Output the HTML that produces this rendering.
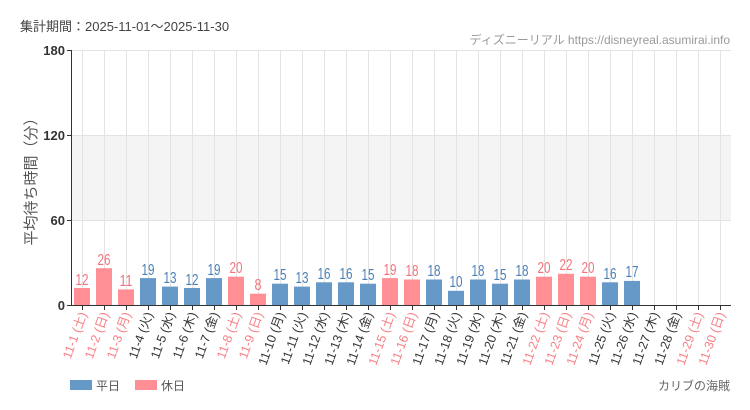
<!DOCTYPE html>
<html><head><meta charset="utf-8"><style>
html,body{margin:0;padding:0;background:#fff;}
svg{display:block;font-family:"Liberation Sans","Noto Sans CJK JP",sans-serif;}
.v{font-size:16px;text-anchor:middle;}
.b{fill:#4a80b8}.p{fill:#f4727a}
.l{font-size:12.5px;text-anchor:end;}
.lk{fill:#333}.lp{fill:#f77e84}
</style></head><body>
<svg width="750" height="410" viewBox="0 0 750 410" xmlns="http://www.w3.org/2000/svg">
<text x="20" y="31" font-size="13" fill="#444">集計期間：2025-11-01～2025-11-30</text>
<text x="730" y="44" font-size="12" fill="#999" text-anchor="end">ディズニーリアル https://disneyreal.asumirai.info</text>
<rect x="71" y="135" width="660" height="85" fill="#f4f4f4"/>
<g stroke="#e3e3e3" stroke-width="1">
<line x1="71" y1="50.5" x2="731" y2="50.5"/><line x1="71" y1="135.5" x2="731" y2="135.5"/><line x1="71" y1="220.5" x2="731" y2="220.5"/>
<path d="M82.5 50V305M104.5 50V305M126.5 50V305M148.5 50V305M170.5 50V305M192.5 50V305M214.5 50V305M236.5 50V305M258.5 50V305M280.5 50V305M302.5 50V305M324.5 50V305M346.5 50V305M368.5 50V305M390.5 50V305M412.5 50V305M434.5 50V305M456.5 50V305M478.5 50V305M500.5 50V305M522.5 50V305M544.5 50V305M566.5 50V305M588.5 50V305M610.5 50V305M632.5 50V305M654.5 50V305M676.5 50V305M698.5 50V305M720.5 50V305"/>
</g>
<g font-size="13" font-weight="bold" fill="#333" text-anchor="end">
<text x="65" y="55">180</text><text x="65" y="140">120</text><text x="65" y="225">60</text><text x="65" y="310">0</text>
</g>
<text transform="translate(36,178) rotate(-90)" font-size="15" fill="#555" text-anchor="middle">平均待ち時間（分）</text>
<g>
<rect x="74" y="288" width="16" height="17" fill="#ff8f95"/>
<rect x="96" y="268.2" width="16" height="36.8" fill="#ff8f95"/>
<rect x="118" y="289.4" width="16" height="15.6" fill="#ff8f95"/>
<rect x="140" y="278.1" width="16" height="26.9" fill="#6699c8"/>
<rect x="162" y="286.6" width="16" height="18.4" fill="#6699c8"/>
<rect x="184" y="288" width="16" height="17" fill="#6699c8"/>
<rect x="206" y="278.1" width="16" height="26.9" fill="#6699c8"/>
<rect x="228" y="276.7" width="16" height="28.3" fill="#ff8f95"/>
<rect x="250" y="293.7" width="16" height="11.3" fill="#ff8f95"/>
<rect x="272" y="283.7" width="16" height="21.3" fill="#6699c8"/>
<rect x="294" y="286.6" width="16" height="18.4" fill="#6699c8"/>
<rect x="316" y="282.3" width="16" height="22.7" fill="#6699c8"/>
<rect x="338" y="282.3" width="16" height="22.7" fill="#6699c8"/>
<rect x="360" y="283.7" width="16" height="21.3" fill="#6699c8"/>
<rect x="382" y="278.1" width="16" height="26.9" fill="#ff8f95"/>
<rect x="404" y="279.5" width="16" height="25.5" fill="#ff8f95"/>
<rect x="426" y="279.5" width="16" height="25.5" fill="#6699c8"/>
<rect x="448" y="290.8" width="16" height="14.2" fill="#6699c8"/>
<rect x="470" y="279.5" width="16" height="25.5" fill="#6699c8"/>
<rect x="492" y="283.7" width="16" height="21.3" fill="#6699c8"/>
<rect x="514" y="279.5" width="16" height="25.5" fill="#6699c8"/>
<rect x="536" y="276.7" width="16" height="28.3" fill="#ff8f95"/>
<rect x="558" y="273.8" width="16" height="31.2" fill="#ff8f95"/>
<rect x="580" y="276.7" width="16" height="28.3" fill="#ff8f95"/>
<rect x="602" y="282.3" width="16" height="22.7" fill="#6699c8"/>
<rect x="624" y="280.9" width="16" height="24.1" fill="#6699c8"/>
</g>
<g class="v">
<text class="p" x="82" y="285" textLength="13" lengthAdjust="spacingAndGlyphs">12</text><text class="p" x="104" y="265" textLength="13" lengthAdjust="spacingAndGlyphs">26</text><text class="p" x="126" y="286" textLength="13" lengthAdjust="spacingAndGlyphs">11</text>
<text class="b" x="148" y="275" textLength="13" lengthAdjust="spacingAndGlyphs">19</text><text class="b" x="170" y="283" textLength="13" lengthAdjust="spacingAndGlyphs">13</text><text class="b" x="192" y="285" textLength="13" lengthAdjust="spacingAndGlyphs">12</text>
<text class="b" x="214" y="275" textLength="13" lengthAdjust="spacingAndGlyphs">19</text><text class="p" x="236" y="273" textLength="13" lengthAdjust="spacingAndGlyphs">20</text><text class="p" x="258" y="290" textLength="7" lengthAdjust="spacingAndGlyphs">8</text>
<text class="b" x="280" y="280" textLength="13" lengthAdjust="spacingAndGlyphs">15</text><text class="b" x="302" y="283" textLength="13" lengthAdjust="spacingAndGlyphs">13</text><text class="b" x="324" y="279" textLength="13" lengthAdjust="spacingAndGlyphs">16</text>
<text class="b" x="346" y="279" textLength="13" lengthAdjust="spacingAndGlyphs">16</text><text class="b" x="368" y="280" textLength="13" lengthAdjust="spacingAndGlyphs">15</text><text class="p" x="390" y="275" textLength="13" lengthAdjust="spacingAndGlyphs">19</text>
<text class="p" x="412" y="276" textLength="13" lengthAdjust="spacingAndGlyphs">18</text><text class="b" x="434" y="276" textLength="13" lengthAdjust="spacingAndGlyphs">18</text><text class="b" x="456" y="287" textLength="13" lengthAdjust="spacingAndGlyphs">10</text>
<text class="b" x="478" y="276" textLength="13" lengthAdjust="spacingAndGlyphs">18</text><text class="b" x="500" y="280" textLength="13" lengthAdjust="spacingAndGlyphs">15</text><text class="b" x="522" y="276" textLength="13" lengthAdjust="spacingAndGlyphs">18</text>
<text class="p" x="544" y="273" textLength="13" lengthAdjust="spacingAndGlyphs">20</text><text class="p" x="566" y="270" textLength="13" lengthAdjust="spacingAndGlyphs">22</text><text class="p" x="588" y="273" textLength="13" lengthAdjust="spacingAndGlyphs">20</text>
<text class="b" x="610" y="279" textLength="13" lengthAdjust="spacingAndGlyphs">16</text><text class="b" x="632" y="277" textLength="13" lengthAdjust="spacingAndGlyphs">17</text>
</g>
<line x1="71.5" y1="50" x2="71.5" y2="305" stroke="#333"/>
<line x1="71" y1="305.5" x2="731" y2="305.5" stroke="#333"/>
<path d="M67 50.5H71M67 135.5H71M67 220.5H71M67 305.5H71" stroke="#333"/>
<path d="M82.5 305V310M104.5 305V310M126.5 305V310M148.5 305V310M170.5 305V310M192.5 305V310M214.5 305V310M236.5 305V310M258.5 305V310M280.5 305V310M302.5 305V310M324.5 305V310M346.5 305V310M368.5 305V310M390.5 305V310M412.5 305V310M434.5 305V310M456.5 305V310M478.5 305V310M500.5 305V310M522.5 305V310M544.5 305V310M566.5 305V310M588.5 305V310M610.5 305V310M632.5 305V310M654.5 305V310M676.5 305V310M698.5 305V310M720.5 305V310" stroke="#333"/>
<g class="l">
<text class="lp" transform="translate(87,314) rotate(-70)">11-1 (土)</text>
<text class="lp" transform="translate(109,314) rotate(-70)">11-2 (日)</text>
<text class="lp" transform="translate(131,314) rotate(-70)">11-3 (月)</text>
<text class="lk" transform="translate(153,314) rotate(-70)">11-4 (火)</text>
<text class="lk" transform="translate(175,314) rotate(-70)">11-5 (水)</text>
<text class="lk" transform="translate(197,314) rotate(-70)">11-6 (木)</text>
<text class="lk" transform="translate(219,314) rotate(-70)">11-7 (金)</text>
<text class="lp" transform="translate(241,314) rotate(-70)">11-8 (土)</text>
<text class="lp" transform="translate(263,314) rotate(-70)">11-9 (日)</text>
<text class="lk" transform="translate(285,314) rotate(-70)">11-10 (月)</text>
<text class="lk" transform="translate(307,314) rotate(-70)">11-11 (火)</text>
<text class="lk" transform="translate(329,314) rotate(-70)">11-12 (水)</text>
<text class="lk" transform="translate(351,314) rotate(-70)">11-13 (木)</text>
<text class="lk" transform="translate(373,314) rotate(-70)">11-14 (金)</text>
<text class="lp" transform="translate(395,314) rotate(-70)">11-15 (土)</text>
<text class="lp" transform="translate(417,314) rotate(-70)">11-16 (日)</text>
<text class="lk" transform="translate(439,314) rotate(-70)">11-17 (月)</text>
<text class="lk" transform="translate(461,314) rotate(-70)">11-18 (火)</text>
<text class="lk" transform="translate(483,314) rotate(-70)">11-19 (水)</text>
<text class="lk" transform="translate(505,314) rotate(-70)">11-20 (木)</text>
<text class="lk" transform="translate(527,314) rotate(-70)">11-21 (金)</text>
<text class="lp" transform="translate(549,314) rotate(-70)">11-22 (土)</text>
<text class="lp" transform="translate(571,314) rotate(-70)">11-23 (日)</text>
<text class="lp" transform="translate(593,314) rotate(-70)">11-24 (月)</text>
<text class="lk" transform="translate(615,314) rotate(-70)">11-25 (火)</text>
<text class="lk" transform="translate(637,314) rotate(-70)">11-26 (水)</text>
<text class="lk" transform="translate(659,314) rotate(-70)">11-27 (木)</text>
<text class="lk" transform="translate(681,314) rotate(-70)">11-28 (金)</text>
<text class="lp" transform="translate(703,314) rotate(-70)">11-29 (土)</text>
<text class="lp" transform="translate(725,314) rotate(-70)">11-30 (日)</text>
</g>
<rect x="70" y="380" width="22" height="10" fill="#6699c8"/>
<text x="96" y="390" font-size="12" fill="#555">平日</text>
<rect x="135" y="380" width="22" height="10" fill="#ff8f95"/>
<text x="161" y="390" font-size="12" fill="#555">休日</text>
<text x="730" y="390" font-size="12" fill="#666" text-anchor="end">カリブの海賊</text>
</svg>
</body></html>
